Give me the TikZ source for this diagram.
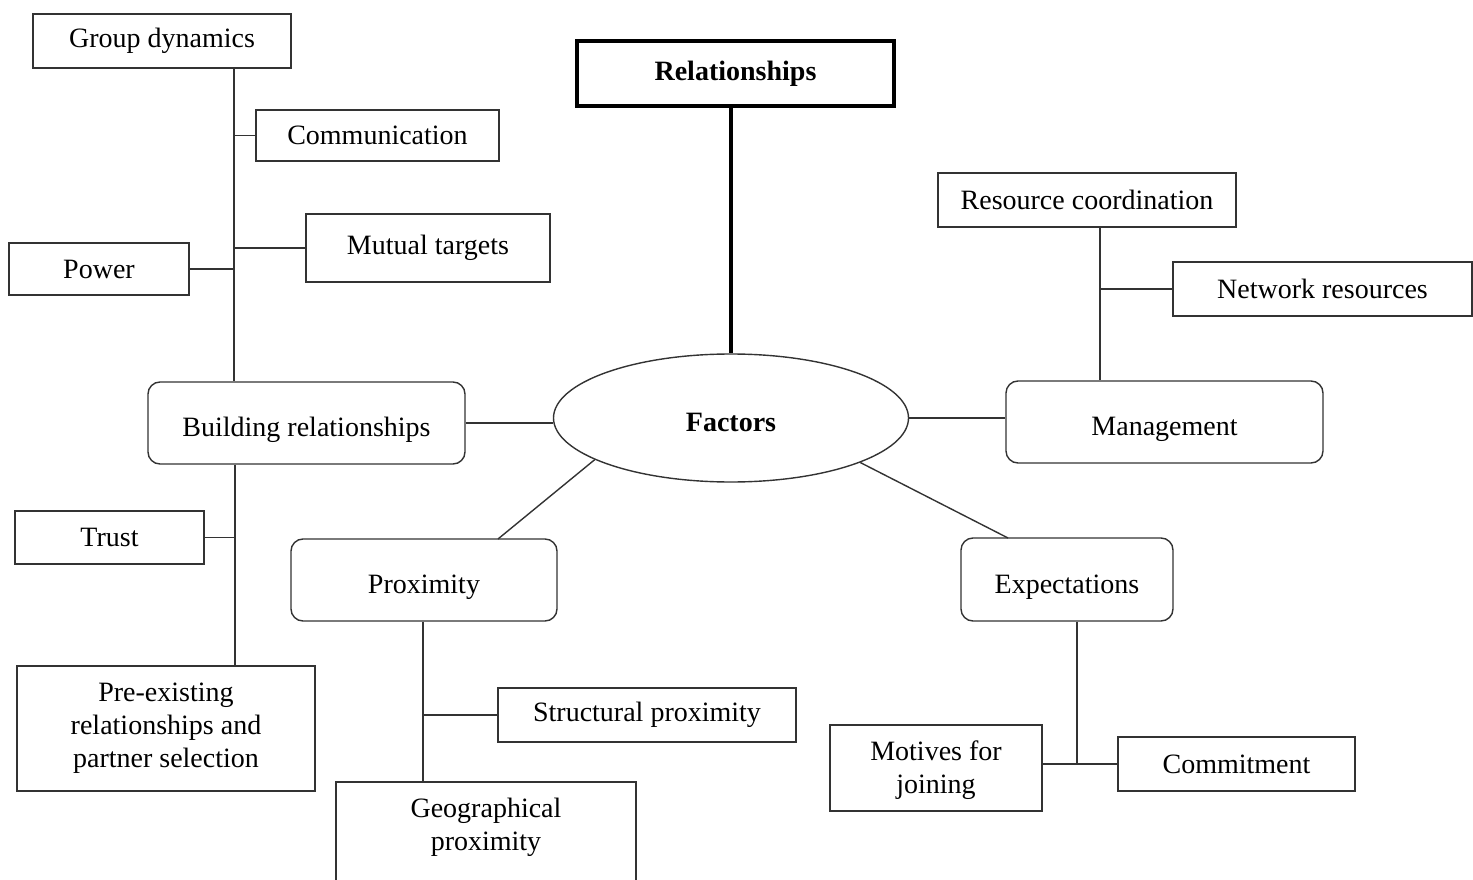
\documentclass[tikz,border=0pt]{standalone}
\usepackage{fontspec}
\setmainfont{Liberation Serif}
\usetikzlibrary{shapes.geometric}
\begin{document}
\begin{tikzpicture}[x=1pt,y=-1pt,
  every node/.style={font=\fontsize{28}{33}\selectfont, text=black},
  box/.style={draw=black!80, line width=1.4pt, rectangle, inner sep=0pt, align=center},
  lowtext/.style={text height=31pt, text depth=4pt},
  rbox/.style={box, rounded corners=12pt, lowtext},
  link/.style={draw=black!80, line width=1.4pt},
  heavy/.style={draw=black, line width=4pt}]
\useasboundingbox (0,0) rectangle (1473,880);
\clip (0,0) rectangle (1473,880);

% centre
\node[box, heavy, minimum width=317, minimum height=65, font=\fontsize{28}{33}\selectfont\bfseries] (rel) at (735.5,73.5) {Relationships};
\node[draw=black!80, line width=1.4pt, ellipse, inner sep=0pt, minimum width=355, minimum height=128,
      lowtext, font=\fontsize{28}{33}\selectfont\bfseries] (fac) at (731,418) {Factors};

% left branch
\node[box, minimum width=258, minimum height=54] (gd) at (162,41) {Group dynamics};
\node[box, minimum width=243, minimum height=51] (comm) at (377.5,135.5) {Communication};
\node[box, minimum width=244, minimum height=68] (mt) at (428,248) {Mutual targets};
\node[box, minimum width=180, minimum height=52] (pow) at (99,269) {Power};
\node[rbox, minimum width=317, minimum height=82] (br) at (306.5,423) {Building relationships};
\node[box, minimum width=189, minimum height=53] (trust) at (109.5,537.5) {Trust};
\node[box, minimum width=298, minimum height=125] (pre) at (166,728.5) {Pre-existing\\relationships and\\partner selection};

% lower branch
\node[rbox, minimum width=266, minimum height=82] (prox) at (424,580) {Proximity};
\node[box, minimum width=298, minimum height=54] (sp) at (647,715) {Structural proximity};
\node[box, minimum width=300, minimum height=138] (geo) at (486,851) {};
\node (geot) at (486,827) [align=center] {Geographical\\proximity};

% right branch
\node[rbox, minimum width=317, minimum height=82] (mg) at (1164.5,422) {Management};
\node[box, minimum width=298, minimum height=54] (rc) at (1087,200) {Resource coordination};
\node[box, minimum width=299, minimum height=54] (nr) at (1322.5,289) {Network resources};
\node[rbox, minimum width=212, minimum height=83] (exp) at (1067,579.5) {Expectations};
\node[box, minimum width=212, minimum height=86] (mot) at (936,768) {\strut Motives for\\joining};
\node[box, minimum width=237, minimum height=54] (com) at (1236.5,764) {Commitment};

% spines of the sub-trees
\coordinate (sA) at (234,0);
\coordinate (sB) at (235,0);
\coordinate (sC) at (423,0);
\coordinate (sD) at (1100,0);
\coordinate (sE) at (1077,0);
\coordinate (pxT) at (498,539);
\coordinate (exT) at (1008,538);

% connectors
\draw[heavy] (fac.north |- rel.south) -- (fac.north);
\draw[link] (br.east) -- (br.east -| fac.west);
\draw[link] (fac.east) -- (fac.east -| mg.west);
\draw[link] (fac.197) -- (pxT);
\draw[link] (fac.341) -- (exT);

\draw[link] (sA |- gd.south) -- (sA |- br.north);
\draw[link] (sA |- comm.west) -- (comm.west);
\draw[link] (sA |- mt.west) -- (mt.west);
\draw[link] (pow.east) -- (sA |- pow.east);

\draw[link] (sB |- br.south) -- (sB |- pre.north);
\draw[link] (trust.east) -- (sB |- trust.east);

\draw[link] (sC |- prox.south) -- (sC |- geo.north);
\draw[link] (sC |- sp.west) -- (sp.west);

\draw[link] (sD |- rc.south) -- (sD |- mg.north);
\draw[link] (sD |- nr.west) -- (nr.west);

\draw[link] (sE |- exp.south) -- (sE |- com.west);
\draw[link] (mot.east |- com.west) -- (com.west);
\end{tikzpicture}
\end{document}
